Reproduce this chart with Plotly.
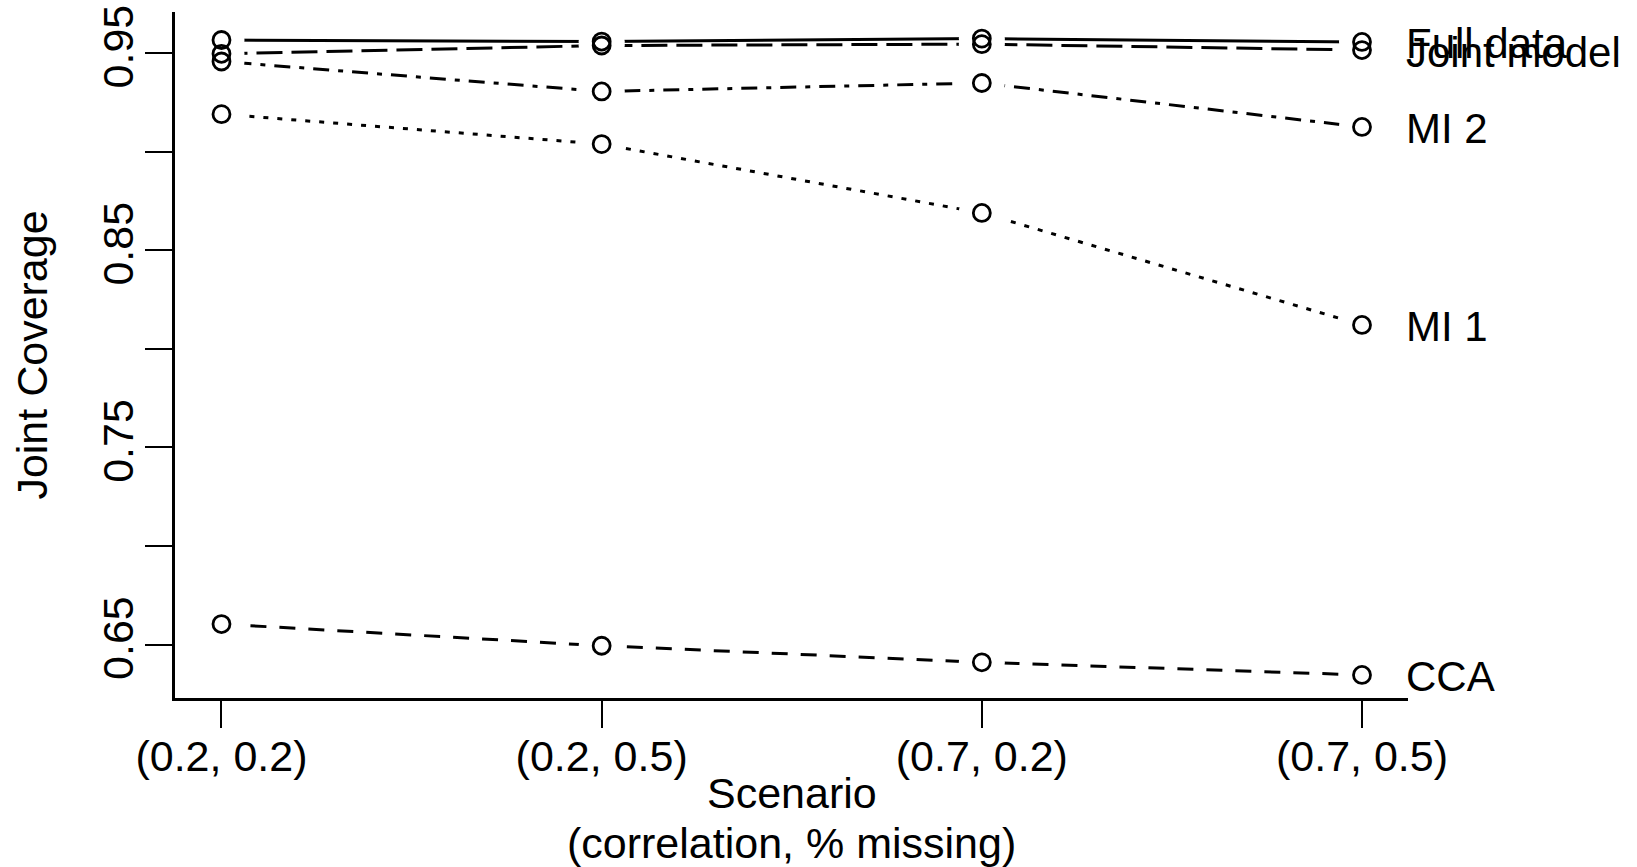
import plotly.graph_objects as go

# ---- data ----
scenarios = ["(0.2, 0.2)", "(0.2, 0.5)", "(0.7, 0.2)", "(0.7, 0.5)"]
x_pos = [1, 2, 3, 4]

full_data = [0.9566, 0.9558, 0.9573, 0.9556]
joint_model = [0.9496, 0.9538, 0.9545, 0.9515]
mi2 = [0.9457, 0.9305, 0.9348, 0.9125]
mi1 = [0.9190, 0.9038, 0.8689, 0.8121]
cca = [0.6604, 0.6494, 0.6410, 0.6346]

series_names = ["Full data", "Joint model", "MI 2", "MI 1", "CCA"]
series_values = [full_data, joint_model, mi2, mi1, cca]
series_dash = ["solid", "26px,9px", "5px,9px,16px,9px", "5px,9px", "16px,13px"]

y_tickvals = [0.65, 0.70, 0.75, 0.80, 0.85, 0.90, 0.95]
y_ticktext = ["0.65", "", "0.75", "", "0.85", "", "0.95"]

x_title_lines = ["Scenario", "(correlation, % missing)"]
y_title = "Joint Coverage"

FONT = "Liberation Sans, Arial, sans-serif"

fig = go.Figure()

# lines
for name, vals, dash in zip(series_names, series_values, series_dash):
    fig.add_trace(go.Scatter(
        x=x_pos, y=vals, mode="lines", name=name,
        line=dict(color="black", width=3, dash=dash),
        hoverinfo="skip", showlegend=False))

# white masks (gaps around points, like R type="b")
for name, vals in zip(series_names, series_values):
    fig.add_trace(go.Scatter(
        x=x_pos, y=vals, mode="markers",
        marker=dict(color="white", size=46, line=dict(width=0)),
        hoverinfo="skip", showlegend=False))

# open circles
for name, vals in zip(series_names, series_values):
    fig.add_trace(go.Scatter(
        x=x_pos, y=vals, mode="markers", name=name,
        marker=dict(symbol="circle-open", color="black", size=17,
                    line=dict(width=2.8, color="black")),
        showlegend=False))

# end labels
for name, vals in zip(series_names, series_values):
    fig.add_annotation(x=x_pos[-1], y=vals[-1], text=name, showarrow=False,
                       xanchor="left", yanchor="middle", xshift=42, yshift=-2,
                       font=dict(family=FONT, size=42, color="black"))

# x-axis title (two lines, R-style spacing)
for txt, ypaper in zip(x_title_lines, [-0.139, -0.212]):
    fig.add_annotation(x=0.5, y=ypaper, xref="paper", yref="paper", text=txt,
                       showarrow=False, xanchor="center", yanchor="middle",
                       font=dict(family=FONT, size=43, color="black"))

fig.update_layout(
    width=1637, height=867,
    margin=dict(l=175, r=229, t=12, b=169, autoexpand=False),
    paper_bgcolor="white", plot_bgcolor="white",
    font=dict(family=FONT, size=43, color="black"),
    showlegend=False,
)

fig.update_xaxes(
    range=[0.8777, 4.121], tickvals=x_pos, ticktext=scenarios,
    showline=True, linecolor="black", linewidth=3, mirror=False,
    ticks="outside", ticklen=27, tickwidth=1.7, tickcolor="black",
    ticklabelstandoff=-9,
    showgrid=False, zeroline=False, automargin=False,
    tickfont=dict(family=FONT, size=43, color="black"),
)
fig.update_yaxes(
    range=[0.6229, 0.9708], tickvals=y_tickvals, ticktext=y_ticktext,
    showline=True, linecolor="black", linewidth=3, mirror=False,
    ticks="outside", ticklen=27, tickwidth=1.7, tickcolor="black",
    tickangle=-90, ticklabelstandoff=-5,
    showgrid=False, zeroline=False, automargin=False,
    tickfont=dict(family=FONT, size=43, color="black"),
    title=dict(text=y_title,
               font=dict(family=FONT, size=43, color="black"), standoff=33),
)

fig.write_html(
    "out.html",
    config={"displayModeBar": False},
    post_script="document.body.style.margin='0px';document.body.style.overflow='hidden';",
)
